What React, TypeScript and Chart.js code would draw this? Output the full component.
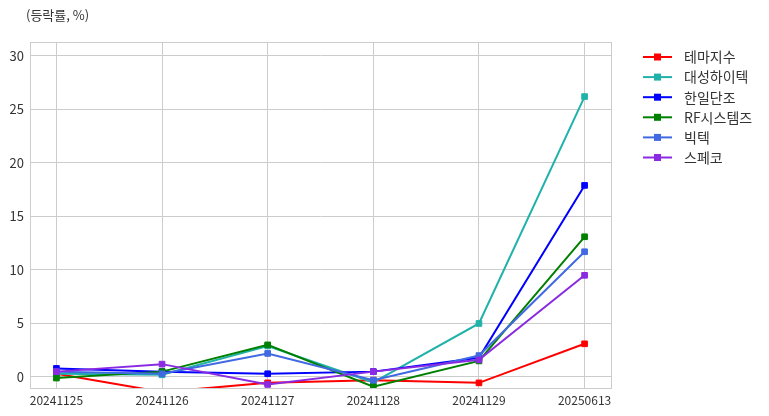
import React, { useEffect, useRef } from "react";
import { Chart, registerables } from "chart.js";

Chart.register(...registerables);

const categories = ["20241125", "20241126", "20241127", "20241128", "20241129", "20250613"];
const seriesNames = ["테마지수", "대성하이텍", "한일단조", "RF시스템즈", "빅텍", "스페코"];
const themeIndex = [0.3, -1.4, -0.55, -0.3, -0.55, 3.1];
const daesung = [0.3, 0.2, 2.9, -0.5, 5.0, 26.2];
const hanil = [0.8, 0.5, 0.3, 0.5, 1.8, 17.9];
const rfsystems = [-0.1, 0.5, 3.0, -0.9, 1.5, 13.1];
const victek = [0.5, 0.3, 2.2, -0.3, 2.0, 11.7];
const speco = [0.5, 1.2, -0.7, 0.5, 1.6, 9.5];
const seriesValues = [themeIndex, daesung, hanil, rfsystems, victek, speco];
const seriesColors = ["#ff0000", "#20b2aa", "#0000ff", "#008000", "#4169e1", "#8a2be2"];
const yTicks = [0, 5, 10, 15, 20, 25, 30];
const titleText = "(등락률, %)";

const FONT = "'Noto Sans CJK KR', 'Noto Sans', sans-serif";

export default function App() {
  const ref = useRef<HTMLCanvasElement | null>(null);

  useEffect(() => {
    if (!ref.current) return;

    const framePlugin = {
      id: "frame",
      afterDraw(chart: any) {
        const { ctx, chartArea } = chart;
        ctx.save();
        ctx.strokeStyle = "#cccccc";
        ctx.lineWidth = 1;
        ctx.strokeRect(
          Math.round(chartArea.left) + 0.5,
          Math.round(chartArea.top) + 0.5,
          Math.round(chartArea.right - chartArea.left),
          Math.round(chartArea.bottom - chartArea.top)
        );
        // title
        ctx.fillStyle = "#333333";
        ctx.font = `13px ${FONT}`;
        ctx.textBaseline = "middle";
        ctx.textAlign = "left";
        ctx.fillText(titleText, 26, 15);
        // legend
        const ds = chart.data.datasets;
        ds.forEach((d: any, i: number) => {
          const y = 57 + i * 20.1;
          ctx.strokeStyle = d.borderColor;
          ctx.lineWidth = 2;
          ctx.beginPath();
          ctx.moveTo(643, y);
          ctx.lineTo(672, y);
          ctx.stroke();
          ctx.fillStyle = d.borderColor;
          ctx.fillRect(654, y - 3.5, 7, 7);
          ctx.fillStyle = "#333333";
          ctx.font = `14px ${FONT}`;
          ctx.textBaseline = "middle";
          ctx.fillText(d.label, 684, y);
        });
        ctx.restore();
      },
    };

    const chart = new Chart(ref.current, {
      type: "line",
      data: {
        datasets: seriesNames.map((name, i) => ({
          label: name,
          data: seriesValues[i].map((v, j) => ({ x: j, y: v })),
          borderColor: seriesColors[i],
          backgroundColor: seriesColors[i],
          borderWidth: 2,
          pointStyle: "rect",
          pointRadius: 4,
          pointBorderWidth: 1,
          tension: 0,
          clip: 0,
          order: seriesNames.length - i,
        })),
      },
      options: {
        animation: false,
        responsive: false,
        maintainAspectRatio: false,
        layout: { padding: { left: 0, right: 158, top: 42, bottom: 0 } },
        plugins: {
          legend: { display: false },
          title: { display: false },
          tooltip: { enabled: false },
        },
        scales: {
          x: {
            type: "linear",
            min: -0.25,
            max: 5.25,
            afterBuildTicks: (scale: any) => {
              scale.ticks = categories.map((_, i) => ({ value: i }));
            },
            afterFit: (scale: any) => {
              scale.height = 28;
            },
            grid: { color: "#cccccc", lineWidth: 1, drawTicks: false },
            border: { display: false },
            ticks: {
              padding: 5,
              color: "#333333",
              font: { family: FONT, size: 12 },
              maxRotation: 0,
              autoSkip: false,
              callback: (v: any) => categories[v as number] ?? "",
            },
          },
          y: {
            type: "linear",
            min: -1.03,
            max: 31.3,
            afterBuildTicks: (scale: any) => {
              scale.ticks = yTicks.map((v) => ({ value: v }));
            },
            afterFit: (scale: any) => {
              scale.width = 30;
            },
            grid: { color: "#cccccc", lineWidth: 1, drawTicks: false },
            border: { display: false },
            ticks: {
              padding: 6,
              color: "#333333",
              font: { family: FONT, size: 13 },
            },
          },
        },
      },
      plugins: [framePlugin],
    });

    return () => chart.destroy();
  }, []);

  return (
    <div style={{ position: "absolute", left: 0, top: 0, width: 769, height: 416, background: "#fff" }}>
      <canvas ref={ref} width={769} height={416} style={{ width: 769, height: 416, display: "block" }} />
    </div>
  );
}
